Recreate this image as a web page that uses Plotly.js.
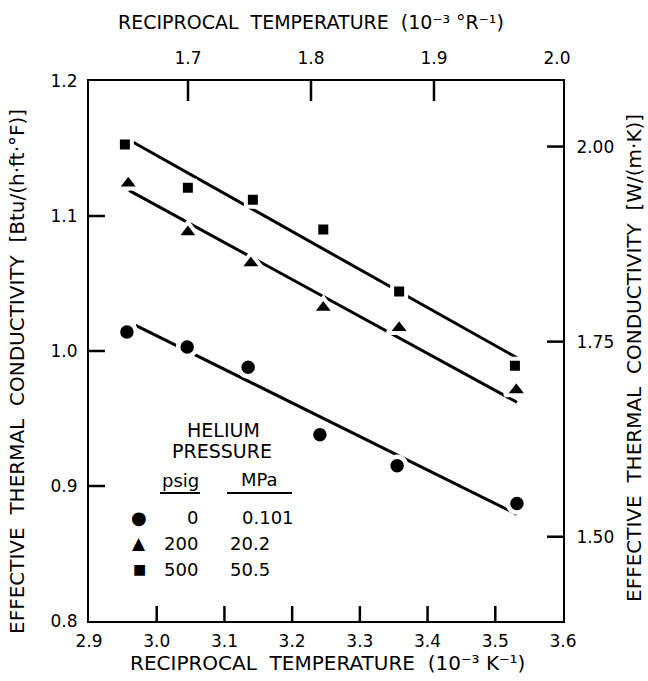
<!DOCTYPE html>
<html>
<head>
<meta charset="utf-8">
<script src="https://cdn.plot.ly/plotly-3.0.1.min.js"></script>
<style>html,body{margin:0;padding:0;background:#fff;}#chart{width:648px;height:681px;}</style>
</head>
<body>
<div id="chart"></div>
<script>
// ---- data ----
var xCircle   = [2.956, 3.045, 3.135, 3.241, 3.355, 3.532];
var yCircle   = [1.014, 1.003, 0.988, 0.938, 0.915, 0.887];
var xTriangle = [2.958, 3.046, 3.139, 3.246, 3.358, 3.531];
var yTriangle = [1.124, 1.088, 1.065, 1.032, 1.017, 0.971];
var xSquare   = [2.953, 3.046, 3.142, 3.246, 3.358, 3.529];
var ySquare   = [1.153, 1.121, 1.112, 1.090, 1.044, 0.989];

var fitXCircle   = [2.969, 3.532];
var fitYCircle   = [1.019, 0.879];
var fitXTriangle = [2.959, 3.532];
var fitYTriangle = [1.119, 0.962];
var fitXSquare   = [2.964, 3.532];
var fitYSquare   = [1.155, 0.995];

var bottomTicks = [2.9, 3.0, 3.1, 3.2, 3.3, 3.4, 3.5, 3.6];
var topTicks    = [1.7, 1.8, 1.9, 2.0];
var leftTicks   = [0.8, 0.9, 1.0, 1.1, 1.2];
var rightTicks  = [1.50, 1.75, 2.00];
var rightTickText = ['1.50', '1.75', '2.00'];

var legendPsig = ['0', '200', '500'];
var legendMPa  = ['0.101', '20.2', '50.5'];
var legendSymbols = ['\u25CF', '\u25B2', '\u25A0'];

// unit conversions for the secondary axes
var K_PER_R = 1.8;          // 1/°R = (1/K)/1.8
var W_PER_BTU = 1.7307;     // W/(m·K) per Btu/(h·ft·°F)

// ---- layout helpers ----
var L = 89, R = 563, T = 81, B = 621, W = 648, H = 681;
var PW = R - L, PH = B - T;
function px(x) { return (x - L) / PW; }
function py(y) { return (B - y) / PH; }

var xRange  = [2.9, 3.6];
var x2Range = [1.6195, 2.0049];
var yRange  = [0.8, 1.2];
var y2Range = [1.392, 2.084];
var dy  = yRange[1] - yRange[0], dx = xRange[1] - xRange[0];
var dy2 = y2Range[1] - y2Range[0], dx2 = x2Range[1] - x2Range[0];
// fraction of the plot area for a primary-axis value (linear axes)
function fracX(v) { return (v - xRange[0]) / dx; }
function fracY(v) { return (v - yRange[0]) / dy; }

var FONT = 'DejaVu Sans, Liberation Sans, sans-serif';
var lineStyle = {color: '#000', width: 3};

function fitTrace(x, y) {
  return {x: x, y: y, mode: 'lines', line: lineStyle, hoverinfo: 'skip', showlegend: false};
}
function ptTrace(x, y, sym, size, lw) {
  return {x: x, y: y, mode: 'markers', showlegend: false, hoverinfo: 'skip',
    marker: {symbol: sym, size: size, color: '#000', line: {color: '#fff', width: lw}}};
}

// inward tick marks built from the tick arrays, drawn through the secondary axes' scales
function tickTrace(vals, along, edge, lenData) {
  var a = [], b = [];
  vals.forEach(function (v) { a.push(v, v, null); b.push(edge, edge + lenData, null); });
  var t = {type: 'scatter', mode: 'lines', line: {color: '#000', width: 2.5}, hoverinfo: 'skip',
    showlegend: false, xaxis: 'x2', yaxis: 'y2', connectgaps: false};
  if (along === 'x') { t.x = a; t.y = b; } else { t.y = a; t.x = b; }
  return t;
}

var traces = [
  fitTrace(fitXCircle, fitYCircle),
  fitTrace(fitXTriangle, fitYTriangle),
  fitTrace(fitXSquare, fitYSquare),
  ptTrace(xCircle, yCircle, 'circle', 18, 4.5),
  ptTrace(xTriangle, yTriangle, 'triangle-up', 20, 4),
  ptTrace(xSquare, ySquare, 'square', 14, 4),
  // same circle data in secondary units (invisible) so the top / right axes are drawn
  {x: xCircle.map(function (v) { return v / K_PER_R; }),
   y: yCircle.map(function (v) { return v * W_PER_BTU; }),
   xaxis: 'x2', yaxis: 'y2', mode: 'markers', marker: {opacity: 0}, hoverinfo: 'skip', showlegend: false},
  tickTrace(topTicks.slice(0, -1), 'x', y2Range[1], -20 / PH * dy2),
  tickTrace(rightTicks, 'y', x2Range[1], -16 / PW * dx2)
];

var tickFont = {family: FONT, size: 17, color: '#000'};
var axBase = {showgrid: false, zeroline: false, showline: true, linecolor: '#000', linewidth: 2,
  ticks: '', tickfont: tickFont};

var layout = {
  width: W, height: H,
  margin: {l: L, r: W - R, t: T, b: H - B, pad: 0},
  paper_bgcolor: '#fff', plot_bgcolor: 'rgba(0,0,0,0)',
  showlegend: false,
  xaxis: Object.assign({}, axBase, {range: xRange, tickvals: bottomTicks, tickformat: '.1f',
    ticklabelstandoff: 4}),
  xaxis2: Object.assign({}, axBase, {range: x2Range, tickvals: topTicks, tickformat: '.1f',
    overlaying: 'x', side: 'top', anchor: 'y2', ticklabelstandoff: 8}),
  yaxis: Object.assign({}, axBase, {range: yRange, tickvals: leftTicks, tickformat: '.1f',
    ticklabelstandoff: 6}),
  yaxis2: Object.assign({}, axBase, {range: y2Range, tickvals: rightTicks, ticktext: rightTickText,
    overlaying: 'y', side: 'right', anchor: 'x2', ticklabelstandoff: 8}),
  shapes: [
    {type: 'line', xref: 'paper', yref: 'paper', x0: px(160), x1: px(200), y0: py(493), y1: py(493),
      line: {color: '#000', width: 2}},
    {type: 'line', xref: 'paper', yref: 'paper', x0: px(227), x1: px(292), y0: py(493), y1: py(493),
      line: {color: '#000', width: 2}}
  ],
  annotations: []
};

// bottom and left inward ticks from the tick arrays
var tickLine = {color: '#000', width: 2.5};
bottomTicks.slice(1, -1).forEach(function (v) {
  var f = fracX(v);
  layout.shapes.push({type: 'line', xref: 'paper', yref: 'paper', x0: f, x1: f,
    y0: 0, y1: 15 / PH, line: tickLine});
});
leftTicks.slice(1, -1).forEach(function (v) {
  var f = fracY(v);
  layout.shapes.push({type: 'line', xref: 'paper', yref: 'paper', y0: f, y1: f,
    x0: 0, x1: 16 / PW, line: tickLine});
});

function ann(text, x, y, opts) {
  var a = {text: text, xref: 'paper', yref: 'paper', x: px(x), y: py(y), showarrow: false,
    xanchor: 'center', yanchor: 'middle', font: {family: FONT, size: 18, color: '#000'}};
  return Object.assign(a, opts || {});
}
var titleFont = {family: FONT, size: 20, color: '#000'};
var topTitleFont = {family: FONT, size: 19, color: '#000'};

// axis titles
layout.annotations.push(ann('RECIPROCAL  TEMPERATURE  (10\u207B\u00B3 K\u207B\u00B9)', 327, 663, {font: titleFont}));
layout.annotations.push(ann('RECIPROCAL  TEMPERATURE  (10\u207B\u00B3 \u00B0R\u207B\u00B9)', 311, 22, {font: topTitleFont}));
layout.annotations.push(ann('EFFECTIVE  THERMAL  CONDUCTIVITY  [Btu/(h\u00B7ft\u00B7\u00B0F)]', 17, 372, {textangle: -90, font: titleFont}));
layout.annotations.push(ann('EFFECTIVE  THERMAL  CONDUCTIVITY  [W/(m\u00B7K)]', 634, 358, {textangle: -90, font: titleFont}));

// legend block
layout.annotations.push(ann('HELIUM', 223, 430, {font: {family: FONT, size: 19, color: '#000'}}));
layout.annotations.push(ann('PRESSURE', 222, 451, {font: {family: FONT, size: 19, color: '#000'}}));
layout.annotations.push(ann('psig', 180, 480));
layout.annotations.push(ann('MPa', 259, 479));
var rowY = [517, 543, 569];
var symSize = [18, 17, 14];
for (var i = 0; i < 3; i++) {
  layout.annotations.push(ann(legendSymbols[i], 139, rowY[i], {font: {family: FONT, size: symSize[i], color: '#000'}}));
  layout.annotations.push(ann(legendPsig[i], 200, rowY[i], {xanchor: 'right'}));
  layout.annotations.push(ann(legendMPa[i], i === 0 ? 240 : 228, rowY[i], {xanchor: 'left'}));
}

Plotly.newPlot('chart', traces, layout, {staticPlot: true, displayModeBar: false});
</script>
</body>
</html>
